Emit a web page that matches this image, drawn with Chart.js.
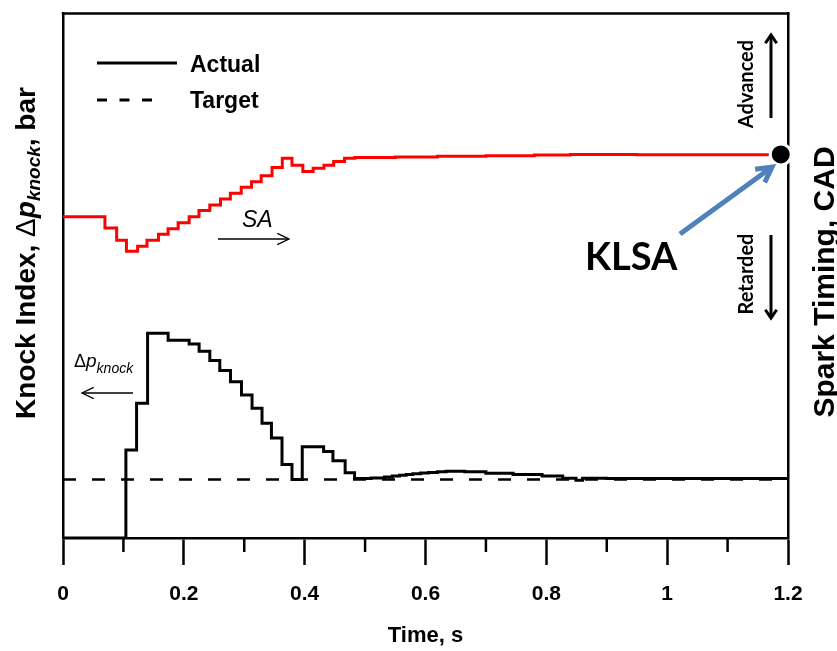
<!DOCTYPE html>
<html><head><meta charset="utf-8">
<script src="https://cdn.jsdelivr.net/npm/chart.js@4.4.1/dist/chart.umd.min.js"></script>
<style>html,body{margin:0;padding:0;background:#fff;}#wrap{width:837px;height:651px;}</style>
</head><body><div id="wrap"><canvas id="c" width="837" height="651"></canvas></div>
<script>
// ---- data ----
const xTickLabels = ['0', '0.2', '0.4', '0.6', '0.8', '1', '1.2'];
const timeSpark = [0, 0.0694, 0.0888, 0.105, 0.1235, 0.139, 0.158, 0.174, 0.1906, 0.2088, 0.225, 0.243, 0.2607, 0.277, 0.295, 0.312, 0.328, 0.346, 0.363, 0.379, 0.397, 0.414, 0.432, 0.448, 0.466, 0.483, 0.55, 0.62, 0.70, 0.78, 0.84, 0.95, 1.05, 1.188];
const sparkTiming = [24.49, 23.64, 22.70, 21.87, 22.25, 22.70, 23.16, 23.58, 24.04, 24.49, 24.98, 25.40, 25.86, 26.29, 26.74, 27.17, 27.63, 28.26, 28.96, 28.43, 27.95, 28.20, 28.43, 28.71, 28.96, 29.02, 29.06, 29.11, 29.16, 29.21, 29.24, 29.23, 29.22, 29.22];
const timeKnock = [0, 0.1041, 0.1218, 0.140, 0.174, 0.2088, 0.2253, 0.243, 0.2595, 0.2772, 0.2954, 0.3129, 0.3294, 0.345, 0.3625, 0.379, 0.396, 0.4314, 0.4468, 0.467, 0.4826, 0.51, 0.532, 0.545, 0.557, 0.568, 0.579, 0.592, 0.605, 0.62, 0.634, 0.665, 0.700, 0.745, 0.793, 0.827, 0.849, 0.860, 0.90, 1.2];
const knockActual = [0, 0.336, 0.514, 0.781, 0.754, 0.740, 0.712, 0.677, 0.639, 0.596, 0.545, 0.495, 0.438, 0.381, 0.280, 0.223, 0.348, 0.330, 0.295, 0.249, 0.227, 0.229, 0.233, 0.236, 0.239, 0.242, 0.245, 0.248, 0.250, 0.253, 0.255, 0.253, 0.247, 0.242, 0.236, 0.228, 0.220, 0.228, 0.227, 0.227];
const targetTime = [0, 1.2];
const knockTarget = [0.223, 0.223];
const klsaTime = [1.188];
const klsaValue = [29.25];

const ARIAL = '"Liberation Sans", Arial, sans-serif';
const CALI = 'Lato, "Liberation Sans", sans-serif';
const pts = (xs, ys) => xs.map((x, i) => ({x, y: ys[i]}));
const isMinor = v => Math.round(v * 10) % 2 === 1;

function arrow(ctx, x1, y1, x2, y2, lw, head, color, spread) {
  const a = Math.atan2(y2 - y1, x2 - x1);
  spread = spread || 0.5;
  ctx.save();
  ctx.strokeStyle = color; ctx.lineWidth = lw; ctx.lineCap = 'butt'; ctx.lineJoin = 'miter';
  ctx.beginPath(); ctx.moveTo(x1, y1); ctx.lineTo(x2 - Math.cos(a) * lw * 0.5, y2 - Math.sin(a) * lw * 0.5); ctx.stroke();
  ctx.beginPath();
  ctx.moveTo(x2 - head * Math.cos(a - spread), y2 - head * Math.sin(a - spread));
  ctx.lineTo(x2, y2);
  ctx.lineTo(x2 - head * Math.cos(a + spread), y2 - head * Math.sin(a + spread));
  ctx.stroke();
  ctx.restore();
}
function partsText(ctx, parts, x, y, align) {
  let total = 0;
  parts.forEach(p => { ctx.font = p.font; p.w = ctx.measureText(p.t).width; total += p.w; });
  let cx = align === 'center' ? x - total / 2 : x;
  parts.forEach(p => { ctx.font = p.font; ctx.fillText(p.t, cx, y + (p.dy || 0)); cx += p.w; });
}
function rotParts(ctx, parts, baseX, centerY) {
  ctx.save();
  ctx.translate(baseX, centerY); ctx.rotate(-Math.PI / 2);
  ctx.textBaseline = 'alphabetic'; ctx.textAlign = 'left';
  partsText(ctx, parts, 0, 0, 'center');
  ctx.restore();
}

const annot = {
  id: 'annot',
  beforeDatasetsDraw(chart) {
    const {ctx, chartArea: a} = chart;
    const xs = chart.scales.x;
    ctx.save();
    ctx.strokeStyle = '#000'; ctx.lineWidth = 2.5;
    ctx.beginPath(); ctx.moveTo(a.left - 1.25, a.top); ctx.lineTo(a.right + 1.25, a.top); ctx.stroke();
    xs.ticks.forEach(t => {
      if (isMinor(t.value)) {
        const px = xs.getPixelForValue(t.value);
        ctx.beginPath(); ctx.moveTo(px, a.bottom); ctx.lineTo(px, a.bottom + 14); ctx.stroke();
      }
    });
    ctx.restore();
  },
  afterDatasetsDraw(chart) {
    const {ctx, chartArea: a} = chart;
    ctx.save();
    ctx.fillStyle = '#000';
    // legend
    ctx.strokeStyle = '#000'; ctx.lineWidth = 3;
    ctx.beginPath(); ctx.moveTo(97, 63); ctx.lineTo(177, 63); ctx.stroke();
    ctx.setLineDash([10, 12.5]);
    ctx.beginPath(); ctx.moveTo(97, 100); ctx.lineTo(152, 100); ctx.stroke();
    ctx.setLineDash([]);
    ctx.font = 'bold 23px ' + ARIAL; ctx.textBaseline = 'alphabetic'; ctx.textAlign = 'left';
    ctx.fillText('Actual', 190, 72);
    ctx.fillText('Target', 190, 108);
    // x title
    ctx.font = 'bold 22px ' + ARIAL; ctx.textAlign = 'center'; ctx.textBaseline = 'middle';
    ctx.fillText('Time, s', (a.left + a.right) / 2, 636);
    ctx.textAlign = 'left'; ctx.textBaseline = 'alphabetic';
    // left title
    rotParts(ctx, [
      {t: 'Knock Index, ', font: 'bold 28px ' + ARIAL},
      {t: '\u0394', font: '28px ' + ARIAL},
      {t: 'p', font: 'bold italic 28px ' + ARIAL},
      {t: 'knock', font: 'bold italic 19px ' + ARIAL, dy: 5},
      {t: ', bar', font: 'bold 28px ' + ARIAL}
    ], 35, 253);
    // right title
    rotParts(ctx, [{t: 'Spark Timing, CAD', font: 'bold 30px ' + ARIAL}], 834, 282);
    // Advanced / Retarded
    rotParts(ctx, [{t: 'Advanced', font: 'bold 20px ' + CALI}], 753, 84);
    rotParts(ctx, [{t: 'Retarded', font: 'bold 20px ' + CALI}], 753, 274);
    arrow(ctx, 771, 118, 771, 35, 3, 10, '#000', 0.6);
    arrow(ctx, 771, 235, 771, 318, 3, 10, '#000', 0.6);
    // KLSA
    ctx.font = 'bold 38px ' + CALI;
    ctx.fillText('KLSA', 585, 270);
    arrow(ctx, 680, 234, 772, 167, 5, 17, '#4f81bd', 0.5);
    // SA
    ctx.font = 'italic 23px ' + ARIAL;
    ctx.fillText('SA', 242, 227);
    arrow(ctx, 218, 239, 289, 239, 1.3, 13, '#000', 0.45);
    // delta p knock
    partsText(ctx, [
      {t: '\u0394', font: '18px ' + ARIAL},
      {t: 'p', font: 'italic 19px ' + ARIAL},
      {t: 'knock', font: 'italic 14px ' + ARIAL, dy: 6}
    ], 74, 367, 'left');
    arrow(ctx, 133, 393, 82, 393, 1.3, 13, '#000', 0.45);
    ctx.restore();
  }
};

new Chart(document.getElementById('c'), {
  type: 'line',
  data: {
    datasets: [
      {label: 'KLSA', data: pts(klsaTime, klsaValue), yAxisID: 'y1', showLine: false,
       pointRadius: 10.5, pointBackgroundColor: '#000', pointBorderColor: '#fff', pointBorderWidth: 3, clip: false},
      {label: 'Actual', data: pts(timeKnock, knockActual), yAxisID: 'y', stepped: true,
       borderColor: '#000', borderWidth: 3, pointRadius: 0, fill: false, tension: 0},
      {label: 'Spark Timing', data: pts(timeSpark, sparkTiming), yAxisID: 'y1', stepped: true,
       borderColor: '#ff0000', borderWidth: 3, pointRadius: 0, fill: false, tension: 0},
      {label: 'Target', data: pts(targetTime, knockTarget), yAxisID: 'y',
       borderColor: '#000', borderWidth: 2.5, borderDash: [13, 16], pointRadius: 0, fill: false, tension: 0}
    ]
  },
  options: {
    responsive: false, animation: false, devicePixelRatio: 1,
    layout: {padding: {top: 6.5, left: 0, right: 0, bottom: 0}},
    plugins: {legend: {display: false}, tooltip: {enabled: false}},
    scales: {
      x: {
        type: 'linear', position: 'bottom', min: 0, max: 1.2,
        grid: {display: true, drawOnChartArea: false, drawTicks: true, tickLength: 27, tickWidth: 2.5,
               tickColor: c => (c.tick && isMinor(c.tick.value)) ? 'rgba(0,0,0,0)' : '#000'},
        border: {display: true, width: 2.5, color: '#000'},
        ticks: {stepSize: 0.1, autoSkip: false, maxRotation: 0, padding: 17, color: '#000',
                font: {family: ARIAL, size: 21, weight: 'bold'},
                callback: v => isMinor(v) ? '' : xTickLabels[Math.round(v / 0.2)]},
        afterFit: s => { s.height = 113; }
      },
      y: {
        position: 'left', min: 0, max: 2,
        grid: {display: false}, ticks: {display: false},
        border: {display: true, width: 2.5, color: '#000'},
        afterFit: s => { s.width = 63; }
      },
      y1: {
        position: 'right', min: 0, max: 40,
        grid: {display: false}, ticks: {display: false},
        border: {display: true, width: 2.5, color: '#000'},
        afterFit: s => { s.width = 49; }
      }
    }
  },
  plugins: [annot]
});
</script></body></html>
